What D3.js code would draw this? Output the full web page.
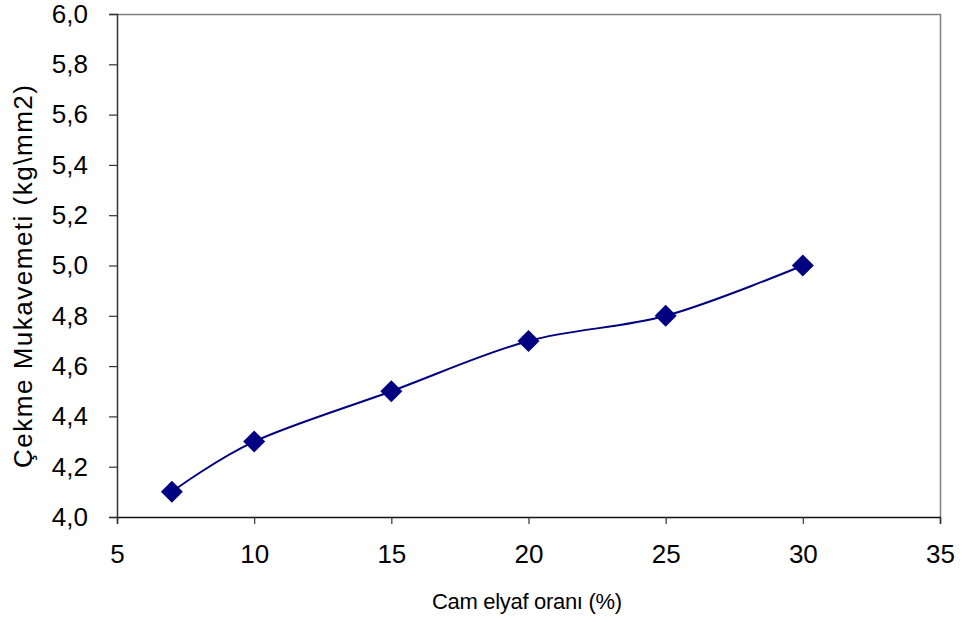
<!DOCTYPE html>
<html>
<head>
<meta charset="utf-8">
<script src="https://cdn.jsdelivr.net/npm/d3@7"></script>
<style>
  html, body { margin: 0; padding: 0; background: #fff; }
  svg { display: block; font-family: "Liberation Sans", Arial, sans-serif; }
</style>
</head>
<body>
<svg id="chart" width="962" height="622"></svg>
<script>
// Glass fibre ratio (%) vs tensile strength (kg/mm2)
const fiberRatio = [7, 10, 15, 20, 25, 30];
const strength = [4.1, 4.3, 4.5, 4.7, 4.8, 5.0];
const xTicks = [5, 10, 15, 20, 25, 30, 35];
const yTicks = [4.0, 4.2, 4.4, 4.6, 4.8, 5.0, 5.2, 5.4, 5.6, 5.8, 6.0];

const svg = d3.select("#chart");
const m = { left: 117, right: 940, top: 14, bottom: 517 };

const x = d3.scaleLinear().domain([5, 35]).range([m.left, m.right]);
const y = d3.scaleLinear().domain([4.0, 6.0]).range([m.bottom, m.top]);
const fmt = d => d.toFixed(1).replace(".", ",");
const fontFamily = "Liberation Sans, Arial, sans-serif";

// top and right frame
svg.append("path")
  .attr("d", `M${m.left},${m.top + 0.5}H${m.right + 0.5}V${m.bottom}`)
  .attr("fill", "none").attr("stroke", "#808080").attr("stroke-width", 1.5);

// y axis
const yAxis = svg.append("g")
  .attr("transform", `translate(${m.left},0)`)
  .call(d3.axisLeft(y).tickValues(yTicks).tickFormat(fmt).tickSize(8).tickPadding(21));
yAxis.select(".domain").attr("stroke", "#333").attr("stroke-width", 1.5);
yAxis.selectAll(".tick line").attr("stroke", "#333").attr("stroke-width", 1.2);
yAxis.selectAll(".tick text").attr("font-size", 26).attr("fill", "#000")
  .attr("font-family", fontFamily);

// x axis
const xAxis = svg.append("g")
  .attr("transform", `translate(0,${m.bottom})`)
  .call(d3.axisBottom(x).tickValues(xTicks).tickFormat(d3.format("d")).tickSize(7).tickPadding(21));
xAxis.select(".domain").attr("stroke", "#111").attr("stroke-width", 1.5);
xAxis.selectAll(".tick line").attr("stroke", "#333").attr("stroke-width", 1.2);
xAxis.selectAll(".tick text").attr("font-size", 26).attr("fill", "#000")
  .attr("font-family", fontFamily);

// smoothed series line
const pts = fiberRatio.map((v, i) => [v, strength[i]]);
const line = d3.line()
  .x(d => x(d[0])).y(d => y(d[1]))
  .curve(d3.curveCatmullRom.alpha(0));
svg.append("path")
  .datum(pts)
  .attr("d", line)
  .attr("fill", "none").attr("stroke", "#000080").attr("stroke-width", 2);

// diamond markers
svg.selectAll(".mark")
  .data(pts)
  .enter().append("path")
  .attr("class", "mark")
  .attr("transform", d => `translate(${x(d[0])},${y(d[1])})`)
  .attr("d", "M0,-11L11,0L0,11L-11,0Z")
  .attr("fill", "#000080");

// axis titles
svg.append("text")
  .attr("x", 527).attr("y", 609)
  .attr("text-anchor", "middle").attr("font-size", 22).attr("fill", "#000")
  .attr("textLength", 190).attr("lengthAdjust", "spacing")
  .text("Cam elyaf oranı (%)");

svg.append("text")
  .attr("transform", `translate(32,276.5) rotate(-90)`)
  .attr("text-anchor", "middle").attr("font-size", 26).attr("fill", "#000")
  .attr("textLength", 383).attr("lengthAdjust", "spacing")
  .text("Çekme Mukavemeti (kg\\mm2)");
</script>
</body>
</html>
